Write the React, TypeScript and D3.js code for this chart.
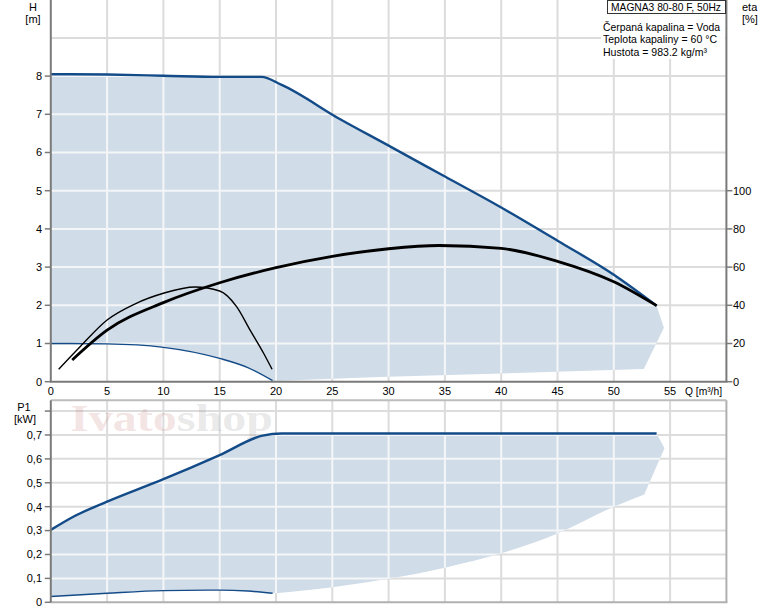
import * as d3 from "d3"

type Pt = [number, number]

// Q [m3/h] vs H [m] at max / min curve
const hMax: Pt[] = [
  [0, 8.05], [5, 8.04], [10, 8.01], [15, 7.98], [18.7, 7.98], [20.5, 7.77],
  [25.7, 6.87], [30, 6.18], [35, 5.37], [40, 4.56], [45, 3.69], [50, 2.8], [53.8, 1.99],
]
const hMin: Pt[] = [[0, 1.0], [5, 0.99], [10, 0.9], [15, 0.61], [17.5, 0.37], [19.7, 0.03]]
const hCap: Pt[] = [[53.8, 1.99], [54.45, 1.41], [52.66, 0.33]]
const hBottom: Pt[] = [[52.66, 0.33], [29.2, 0.12], [19.8, 0.02]]

// efficiency [%]
const etaMax: Pt[] = [
  [1.9, 11.4], [5, 27], [10, 41.4], [15, 51.8], [20, 59.7], [25, 65.6], [30, 69.6],
  [34.5, 71.3], [40, 69.8], [45, 63], [50, 52.3], [53.8, 39.8],
]
const etaMin: Pt[] = [
  [0.7, 6.5], [2.6, 18.3], [5, 32.3], [7.5, 40.8], [10, 46.3], [12.8, 49.6],
  [15, 47.5], [16.5, 39.3], [17.7, 27], [18.9, 14.9], [19.65, 6.5],
]

// P1 [kW]
const p1Max: Pt[] = [
  [0, 0.303], [2, 0.358], [5, 0.421], [10, 0.515], [15, 0.616], [18.8, 0.697],
  [20.5, 0.706], [30, 0.706], [40, 0.706], [53.8, 0.706],
]
const p1Min: Pt[] = [[0, 0.024], [5, 0.038], [10, 0.049], [15, 0.051], [17.5, 0.047], [19.7, 0.038]]
const p1Cap: Pt[] = [[53.8, 0.706], [54.5, 0.644], [52.7, 0.451]]
const p1Bottom: Pt[] = [
  [52.7, 0.451], [50, 0.4], [45, 0.288], [40, 0.205], [35, 0.145], [30, 0.098], [25, 0.063], [19.9, 0.038],
]

const qTicks = [0, 5, 10, 15, 20, 25, 30, 35, 40, 45, 50, 55]
const hTicks = [0, 1, 2, 3, 4, 5, 6, 7, 8]
const etaTicks = [0, 20, 40, 60, 80, 100]
const p1Ticks = [0, 0.1, 0.2, 0.3, 0.4, 0.5, 0.6, 0.7]
const infoLines = ["Čerpaná kapalina = Voda", "Teplota kapaliny = 60 °C", "Hustota = 983.2 kg/m³"]
const infoWidths = [117, 114, 104]

const W = 774
const H = 611
const FONT = "'Liberation Sans', Arial, sans-serif"
const FILL = "#d0dce7"
const BLUE = "#134b88"

export default function App() {
  const x = d3.scaleLinear().domain([0, 60]).range([50.8, 726.4])
  const yH = d3.scaleLinear().domain([0, 10]).range([381.7, -0.3])
  const yEta = d3.scaleLinear().domain([0, 200]).range([381.7, -0.3])
  const yP = d3.scaleLinear().domain([0, 0.845]).range([602.3, 400.3])

  const curve = d3.curveMonotoneX
  const lineH = d3.line<Pt>().x(d => x(d[0])).y(d => yH(d[1])).curve(curve)
  const lineHLin = d3.line<Pt>().x(d => x(d[0])).y(d => yH(d[1]))
  const lineEta = d3.line<Pt>().x(d => x(d[0])).y(d => yEta(d[1])).curve(curve)
  const lineP = d3.line<Pt>().x(d => x(d[0])).y(d => yP(d[1])).curve(curve)
  const linePLin = d3.line<Pt>().x(d => x(d[0])).y(d => yP(d[1]))

  const cont = (s: string | null) => (s || "").replace(/^M/, "L")

  const topFill =
    lineH(hMax) + cont(lineHLin(hCap)) + cont(lineHLin(hBottom)) +
    cont(lineH(hMin.slice().reverse())) + "Z"
  const botFill =
    lineP(p1Max) + cont(linePLin(p1Cap)) + cont(lineP(p1Bottom)) +
    cont(lineP(p1Min.slice().reverse())) + "Z"

  const x0 = x(0), x1 = x(60)
  const topY0 = yH(0), topY1 = 0
  const botY0 = yP(0), botY1 = yP(0.845)
  const vGrid = qTicks.filter(q => q > 0)
  const hGrid = [1, 2, 3, 4, 5, 6, 7, 8, 9]
  const pGrid = [0.1, 0.2, 0.3, 0.4, 0.5, 0.6, 0.7, 0.8]

  const topGrid = (color: string) => (
    <g stroke={color} strokeWidth={2}>
      {vGrid.map(q => <line key={"v" + q} x1={x(q)} x2={x(q)} y1={topY1} y2={topY0} />)}
      {hGrid.map(h => <line key={"h" + h} x1={x0} x2={x1} y1={yH(h)} y2={yH(h)} />)}
    </g>
  )
  const botGrid = (color: string) => (
    <g stroke={color} strokeWidth={2}>
      {vGrid.map(q => <line key={"v" + q} x1={x(q)} x2={x(q)} y1={botY1} y2={botY0} />)}
      {pGrid.map(p => <line key={"p" + p} x1={x0} x2={x1} y1={yP(p)} y2={yP(p)} />)}
    </g>
  )

  return (
    <div style={{ position: "absolute", left: 0, top: 0 }}>
      <svg width={W} height={H} style={{ display: "block", background: "#fff" }} fontFamily={FONT} fontSize={11}>
        <defs>
          <clipPath id="topClip"><path d={topFill} /></clipPath>
          <clipPath id="botClip"><path d={botFill} /></clipPath>
        </defs>

        {/* top panel */}
        {topGrid("#dcdcdc")}
        <path d={topFill} fill={FILL} />
        <g clipPath="url(#topClip)">{topGrid("#f4f6f8")}</g>

        <path d={lineH(hMin) || ""} fill="none" stroke={BLUE} strokeWidth={1.4} />
        <path d={lineH(hMax) || ""} fill="none" stroke={BLUE} strokeWidth={2.4} />
        <path d={lineEta(etaMin) || ""} fill="none" stroke="#000" strokeWidth={1.4} />
        <path d={lineEta(etaMax) || ""} fill="none" stroke="#000" strokeWidth={2.8} />

        <line x1={x0} x2={x0} y1={0} y2={topY0} stroke="#7a7a7a" strokeWidth={2} />
        <line x1={x1} x2={x1} y1={0} y2={topY0} stroke="#7a7a7a" strokeWidth={2} />
        <line x1={x0 - 1} x2={x1 + 1} y1={topY0} y2={topY0} stroke="#7a7a7a" strokeWidth={2} />

        {hTicks.map(t => (
          <g key={"ht" + t}>
            <line x1={x0 - 6} x2={x0} y1={yH(t)} y2={yH(t)} stroke="#7a7a7a" strokeWidth={1.5} />
            <text x={42} y={yH(t)} dy="0.35em" textAnchor="end">{t}</text>
          </g>
        ))}
        {etaTicks.map(t => (
          <g key={"et" + t}>
            <line x1={x1} x2={x1 + 6} y1={yEta(t)} y2={yEta(t)} stroke="#7a7a7a" strokeWidth={1.5} />
            <text x={733} y={yEta(t)} dy="0.35em">{t}</text>
          </g>
        ))}
        {qTicks.map(q => (
          <text key={"qt" + q} x={x(q)} y={395} textAnchor="middle">{q}</text>
        ))}
        <text x={685} y={395} textLength={37} lengthAdjust="spacingAndGlyphs">Q [m³/h]</text>

        <text x={33} y={11} textAnchor="middle">H</text>
        <text x={33} y={23} textAnchor="middle">[m]</text>
        <text x={742} y={11}>eta</text>
        <text x={742} y={23}>[%]</text>

        <rect x={601} y={0} width={124} height={59} fill="#fff" />
        <rect x={607.5} y={0.5} width={118} height={13} fill="#fff" stroke="#333" strokeWidth={1} />
        <text x={611} y={11} textLength={110} lengthAdjust="spacingAndGlyphs">MAGNA3 80-80 F, 50Hz</text>
        {infoLines.map((s, i) => (
          <text key={s} x={603} y={30.5 + i * 12.5} textLength={infoWidths[i]} lengthAdjust="spacingAndGlyphs">{s}</text>
        ))}

        {/* bottom panel */}
        {botGrid("#dcdcdc")}
        <path d={botFill} fill={FILL} />
        <g clipPath="url(#botClip)">{botGrid("#f4f6f8")}</g>

        <text x={70} y={431} fontFamily="'Liberation Serif', 'DejaVu Serif', serif" fontWeight="bold" fontSize={38}
          textLength={203} lengthAdjust="spacingAndGlyphs">
          <tspan fill="#c87878" fillOpacity={0.2}>Ivato</tspan>
          <tspan fill="#909090" fillOpacity={0.2}>shop</tspan>
        </text>

        <path d={lineP(p1Min) || ""} fill="none" stroke={BLUE} strokeWidth={1.4} />
        <path d={lineP(p1Max) || ""} fill="none" stroke={BLUE} strokeWidth={2.4} />

        <line x1={x0} x2={x1} y1={botY1} y2={botY1} stroke="#bdbdbd" strokeWidth={2} />
        <line x1={x1} x2={x1} y1={botY1} y2={botY0} stroke="#b0b0b0" strokeWidth={2} />
        <line x1={x0} x2={x1 + 1} y1={botY0} y2={botY0} stroke="#b0b0b0" strokeWidth={2} />
        <line x1={x0} x2={x0} y1={botY1} y2={botY0} stroke="#7a7a7a" strokeWidth={2} />

        {[...p1Ticks, 0.8].map(t => (
          <line key={"pt" + t} x1={x0 - 6} x2={x0} y1={yP(t)} y2={yP(t)} stroke="#7a7a7a" strokeWidth={1.5} />
        ))}
        {p1Ticks.map(t => (
          <text key={"pl" + t} x={42} y={yP(t)} dy="0.35em" textAnchor="end">
            {t === 0 ? "0" : t.toFixed(1).replace(".", ",")}
          </text>
        ))}
        <text x={24} y={411} textAnchor="middle">P1</text>
        <text x={25} y={423} textAnchor="middle">[kW]</text>
      </svg>
    </div>
  )
}
